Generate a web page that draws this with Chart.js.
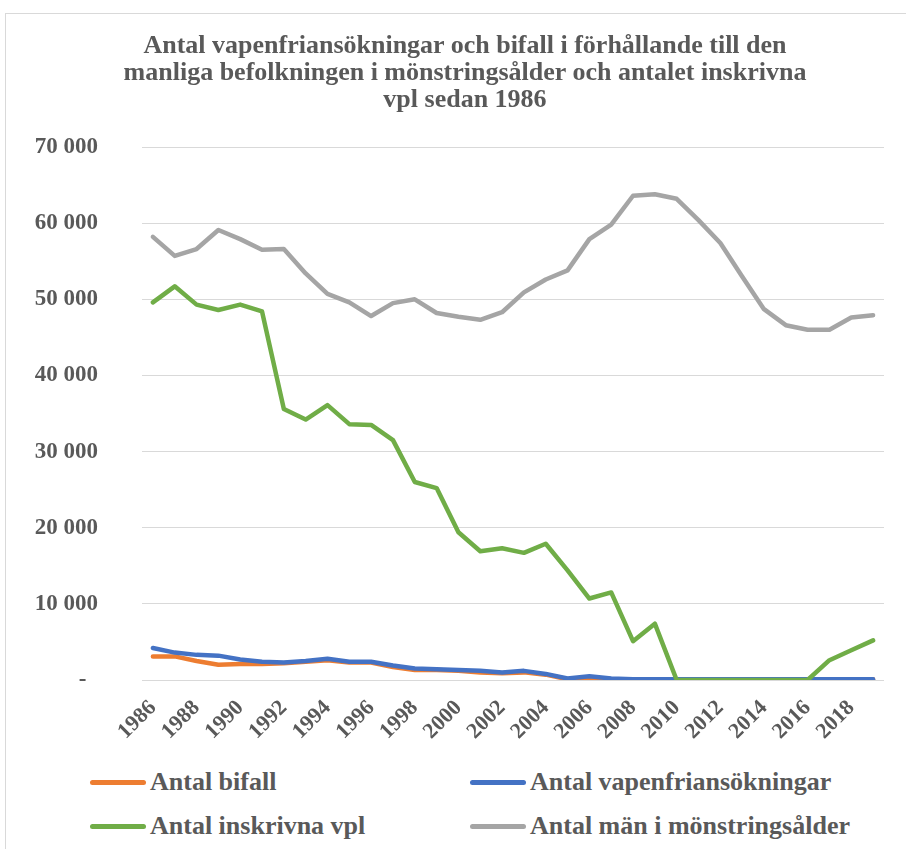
<!DOCTYPE html>
<html>
<head>
<meta charset="utf-8">
<script src="https://cdn.jsdelivr.net/npm/chart.js@4.4.0/dist/chart.umd.min.js"></script>
<style>
body{margin:0;background:#fff;width:906px;height:849px;overflow:hidden;position:relative;font-family:'Liberation Serif',serif;}
#frame{position:absolute;left:5px;top:13px;width:940px;height:900px;border:1px solid #d9d9d9;}
#title{position:absolute;left:12px;top:31px;width:906px;text-align:center;font-weight:bold;font-size:26px;line-height:27px;color:#595959;}
#wrap{position:absolute;left:0;top:0;width:906px;height:760px;}
.leg{position:absolute;height:30px;display:flex;align-items:center;font-weight:bold;font-size:26px;color:#595959;white-space:nowrap;}
.leg i{display:inline-block;width:56px;height:5px;border-radius:3px;margin-right:4px;}
</style>
</head>
<body>
<div id="frame"></div>
<div id="wrap"><canvas id="chart"></canvas></div>
<div id="title"></div>
<div id="legend"></div>
<script>
// år 1986-2019
const years = ['1986','1987','1988','1989','1990','1991','1992','1993','1994','1995',
	'1996','1997','1998','1999','2000','2001','2002','2003','2004','2005',
	'2006','2007','2008','2009','2010','2011','2012','2013','2014','2015',
	'2016','2017','2018','2019'];
const bifall = [3100,3100,2500,2000,2100,2100,2200,2400,2600,2300,
	2300,1700,1300,1300,1200,1000,900,1000,700,100,
	300,100,100,100,100,100,100,100,100,100,
	100,100,100,100];
const ansokningar = [4200,3600,3300,3200,2700,2400,2300,2500,2800,2400,
	2400,1900,1500,1400,1300,1200,1000,1200,800,200,
	500,200,100,100,100,100,100,100,100,100,
	100,100,100,100];
const inskrivna = [49600,51700,49300,48600,49300,48400,35600,34200,36100,33600,
	33500,31500,26000,25200,19400,16900,17300,16700,17900,14400,
	10700,11500,5100,7400,0,0,0,0,0,0,
	0,2600,3900,5200];
const man = [58200,55700,56600,59100,57900,56500,56600,53400,50700,49600,
	47800,49500,50000,48200,47700,47300,48300,50900,52600,53800,
	57900,59800,63600,63800,63200,60400,57400,53000,48700,46600,
	46000,46000,47600,47900];
const seriesNames = ['Antal bifall','Antal vapenfriansökningar','Antal inskrivna vpl','Antal män i mönstringsålder'];
const colors = ['#ED7D31','#4472C4','#70AD47','#A5A5A5'];
const titleLines = ['Antal vapenfriansökningar och bifall i förhållande till den',
	'manliga befolkningen i mönstringsålder och antalet inskrivna',
	'vpl sedan 1986'];

const FONT = "'Liberation Serif', serif";
const TXT = '#595959';

function fmt(v) {
	if (v === 0) return '-\u00a0\u00a0';
	return String(v).replace(/\B(?=(\d{3})+(?!\d))/g, ' ');
}

document.getElementById('title').innerHTML = titleLines.join('<br>');

const values = [bifall, ansokningar, inskrivna, man];
const datasets = values.map((d, i) => ({
	label: seriesNames[i],
	data: d,
	borderColor: colors[i],
	backgroundColor: colors[i],
	borderWidth: 4.5,
	pointRadius: 0,
	tension: 0,
	borderCapStyle: 'round',
	borderJoinStyle: 'round',
	order: 4 - i,
}));

const ctx = document.getElementById('chart').getContext('2d');
new Chart(ctx, {
	type: 'line',
	data: { labels: years, datasets: datasets },
	options: {
		responsive: true,
		maintainAspectRatio: false,
		animation: false,
		layout: { padding: { left: 0, right: 22, top: 147, bottom: 0 } },
		plugins: {
			legend: { display: false },
			tooltip: { enabled: false },
			title: { display: false }
		},
		scales: {
			x: {
				offset: true,
				grid: { display: false },
				border: { display: false },
				afterFit: function(s) { s.height = 80; },
				ticks: {
					autoSkip: false,
					maxRotation: 45,
					minRotation: 45,
					padding: 7,
					color: TXT,
					font: { family: FONT, size: 22, weight: 'bold' },
					callback: function(v, i) { return i % 2 === 0 ? years[i] : ''; }
				}
			},
			y: {
				min: 0,
				max: 70000,
				grid: { color: '#d9d9d9', lineWidth: 1, drawTicks: false },
				border: { display: false },
				afterFit: function(s) { s.width = 142; },
				ticks: {
					stepSize: 10000,
					padding: 44,
					color: TXT,
					font: { family: FONT, size: 23, weight: 'bold' },
					callback: fmt
				}
			}
		}
	}
});

// förklaring i två kolumner
const legPos = [[90, 767], [470, 767], [90, 811], [470, 811]];
let html = '';
seriesNames.forEach((n, i) => {
	html += '<div class="leg" style="left:' + legPos[i][0] + 'px;top:' + legPos[i][1] + 'px"><i style="background:' + colors[i] + '"></i>' + n + '</div>';
});
document.getElementById('legend').innerHTML = html;
</script>
</body>
</html>
